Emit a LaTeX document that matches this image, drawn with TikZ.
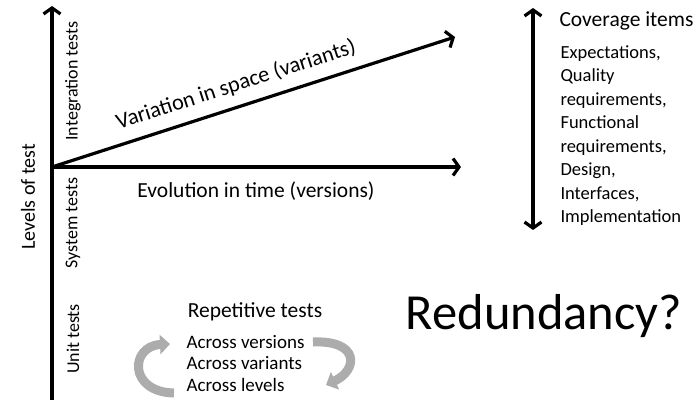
\documentclass[tikz,border=0pt]{standalone}
\usepackage{fontspec}
\setmainfont{Carlito}
\usetikzlibrary{arrows.meta,positioning}
\definecolor{loopgray}{RGB}{172,172,172}
\newcommand{\fs}[2]{\fontsize{#1}{#2}\selectfont}
\newcommand{\levelat}[3]{\node[rotate=90,font=\fs{18}{21}] (#1) at #2 {#3} ;}
\newcommand{\across}[3]{\node[font=\fs{19}{22},anchor=base west] (#1) at #2 {#3} ;}
\tikzset{
  axis/.style={line width=3.2pt,line cap=round,-{Straight Barb[length=6pt,width=17pt]}},
  loop arrow/.style={line width=9pt,loopgray,-{Triangle[length=10pt,width=19pt]}}
}

\begin{document}
\begin{tikzpicture}[x=1pt,y=-1pt]
        \useasboundingbox (0,0) rectangle (696,402);
        % axes
        \coordinate (O) at (52,167);
        \coordinate (Top) at (52,6);
        \coordinate (Bot) at (52,400);
        \coordinate (Space) at (455,37);
        \coordinate (Time) at (461,167);
        \draw[axis,line cap=butt] (Bot) -- (Top);
        \draw[axis] (O) -- (Space);
        \draw[axis] (O) -- (Time);
        \node[rotate=90,font=\fs{20}{23}] (Levels) at (28,197) {Levels of test};
        \levelat{Integration}{(73,81)}{Integration tests}
        \levelat{System}{(73,223)}{System tests}
        \levelat{Unit}{(73,339)}{Unit tests}
        \node[rotate=17.9,font=\fs{22.3}{26}] (SpaceLbl) at (236,85) {Variation in space (variants)};
        \node[font=\fs{21.5}{25},anchor=base] (TimeLbl) at (256,197) {Evolution in time (versions)};
        % coverage items
        \coordinate (CovTop) at (533,8);
        \coordinate (CovBot) at (533,230);
        \draw[axis,{Straight Barb[length=6pt,width=17pt]}-{Straight Barb[length=6pt,width=17pt]}] (CovBot) -- (CovTop);
        \node[font=\fs{21.5}{25},anchor=base west] (Coverage) at (556,26) {Coverage items};
        \node[font=\fs{18.5}{23.5},align=left,anchor=north west] (Items) at (557,42)
          {Expectations,\\Quality\\requirements,\\Functional\\requirements,\\Design,\\Interfaces,\\Implementation};
        \node[font=\fs{50.5}{58},anchor=base] (Redundancy) at (544,329) {Redundancy?};
        % repetitive tests
        \node[font=\fs{21.5}{25},anchor=base] (Repetitive) at (255,317) {Repetitive tests};
        \across{Versions}{(183,348)}{Across versions}
        \across{Variants}{(183,369.5)}{Across variants}
        \across{LevelsA}{(183,391)}{Across levels}
        \coordinate (LoopA) at (174,393);
        \coordinate (LoopB) at (313,342);
        \draw[loop arrow] (LoopA) .. controls (128,392) and (130,346) .. (170,344);
        \draw[loop arrow] (LoopB) .. controls (360,340) and (358,370) .. (326,385);
    \end{tikzpicture}
\end{document}
